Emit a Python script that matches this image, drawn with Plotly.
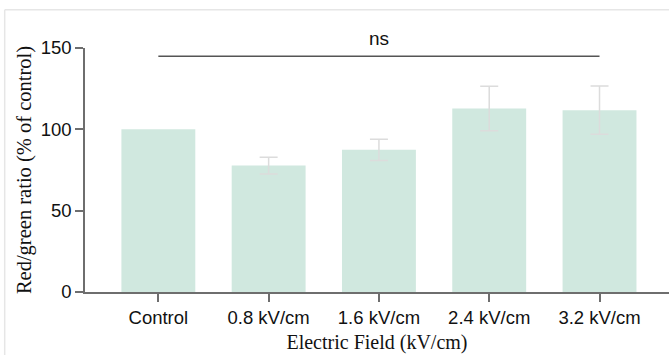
import plotly.graph_objects as go

categories = ["Control", "0.8 kV/cm", "1.6 kV/cm", "2.4 kV/cm", "3.2 kV/cm"]
values = [100.0, 77.7, 87.4, 112.8, 111.8]
errors = [None, 5.2, 6.5, 13.7, 14.8]  # Control has no error bar
y_ticks = [0, 50, 100, 150]
sig_label = "ns"
sig_from = 0
sig_to = 4
sig_y = 145

err_x = [c for c, e in zip(categories, errors) if e is not None]
err_y = [v for v, e in zip(values, errors) if e is not None]
err_v = [e for e in errors if e is not None]

fig = go.Figure()
fig.add_trace(go.Bar(
    x=categories, y=values,
    marker=dict(color="#d0e8df", line=dict(width=0)),
    width=0.67,
    showlegend=False,
))
fig.add_trace(go.Scatter(
    x=err_x, y=err_y, mode="markers",
    marker=dict(size=1, opacity=0),
    error_y=dict(type="data", array=err_v, visible=True,
                 color="#dcdcdc", thickness=1.5, width=9),
    showlegend=False, hoverinfo="skip",
))

fig.add_shape(type="line", xref="x", yref="y",
              x0=sig_from, x1=sig_to, y0=sig_y, y1=sig_y,
              line=dict(color="#555555", width=1.5))
fig.add_annotation(x=(sig_from + sig_to) / 2, xref="x", y=1.0, yref="paper",
                   yshift=10, text=sig_label, showarrow=False,
                   font=dict(family="Liberation Sans, Arial", size=19, color="#111111"),
                   yanchor="middle")

# light frame at top/left of the image
fig.add_shape(type="line", xref="paper", yref="paper",
              x0=-0.1375, x1=1.0, y0=1.157, y1=1.157,
              line=dict(color="#e6e6e6", width=1.5))
fig.add_shape(type="line", xref="paper", yref="paper",
              x0=-0.1375, x1=-0.1375, y0=1.157, y1=-0.27,
              line=dict(color="#e6e6e6", width=1.5))

fig.update_layout(
    width=669, height=355,
    margin=dict(l=85, r=0, t=48, b=63, autoexpand=False),
    plot_bgcolor="white", paper_bgcolor="white",
)
fig.update_xaxes(
    range=[-0.665, 4.63],
    showline=True, linecolor="#6e6e6e", linewidth=1.5,
    ticks="outside", ticklen=8, tickwidth=1.5, tickcolor="#6e6e6e",
    tickfont=dict(family="Liberation Sans, Arial", size=18.5, color="#111111"),
    title=dict(text="Electric Field (kV/cm)",
               font=dict(family="Liberation Serif, Times New Roman", size=20, color="#111111"),
               standoff=8),
    showgrid=False, zeroline=False,
)
fig.update_yaxes(
    range=[0, 150], tickvals=y_ticks,
    showline=True, linecolor="#6e6e6e", linewidth=1.5,
    ticks="outside", ticklen=8, tickwidth=1.5, tickcolor="#6e6e6e",
    tickfont=dict(family="Liberation Sans, Arial", size=18.5, color="#111111"),
    title=dict(text="Red/green ratio (% of control)",
               font=dict(family="Liberation Serif, Times New Roman", size=20.5, color="#111111"),
               standoff=3),
    showgrid=False, zeroline=False,
)

fig.write_html("out.html", config={"displayModeBar": False},
               post_script="document.body.style.margin='0';document.body.style.overflow='hidden';")
